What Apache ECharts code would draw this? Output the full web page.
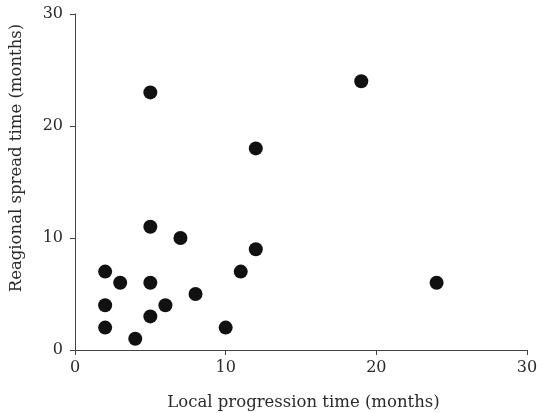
<!DOCTYPE html>
<html>
<head>
<meta charset="utf-8">
<script src="https://cdn.jsdelivr.net/npm/echarts@6/dist/echarts.min.js"></script>
<style>
  html, body { margin: 0; padding: 0; background: #fff; }
  #chart { width: 537px; height: 413px; }
</style>
</head>
<body>
<div id="chart"></div>
<script>
// local progression time (x) vs regional spread time (y), months
const localTime = [5, 19, 12, 5, 7, 12, 2, 11, 3, 5, 24, 2, 6, 8, 5, 2, 10, 4]
const regionalTime = [23, 24, 18, 11, 10, 9, 7, 7, 6, 6, 6, 4, 4, 5, 3, 2, 2, 1]

const points = localTime.map((x, i) => [x, regionalTime[i]])

const chart = echarts.init(document.getElementById('chart'))

const axisCommon = {
  type: 'value',
  min: 0,
  max: 30,
  interval: 10,
  nameLocation: 'middle',
  nameTextStyle: { fontFamily: 'DejaVu Serif', fontSize: 16.5, color: '#2a2a2a' },
  axisLine: { show: true, lineStyle: { color: '#444', width: 1 } },
  axisTick: { show: true, length: 5, lineStyle: { color: '#444' } },
  axisLabel: { fontFamily: 'DejaVu Serif', fontSize: 16, color: '#2a2a2a' },
  splitLine: { show: false }
}

chart.setOption({
  animation: false,
  grid: { left: 75, right: 10, top: 14, bottom: 63, outerBoundsMode: 'none' },
  xAxis: {
    ...axisCommon,
    name: 'Local progression time (months)',
    nameGap: 44,
    nameTextStyle: { ...axisCommon.nameTextStyle, padding: [0, 0, 0, 5] },
    axisLabel: { ...axisCommon.axisLabel, margin: 10 }
  },
  yAxis: {
    ...axisCommon,
    name: 'Reagional spread time (months)',
    nameGap: 50,
    nameTextStyle: { ...axisCommon.nameTextStyle, padding: [0, 0, 0, 48] },
    axisLabel: { ...axisCommon.axisLabel, margin: 12 }
  },
  series: [
    {
      type: 'scatter',
      symbolSize: 14,
      itemStyle: { color: '#111', opacity: 1 },
      data: points
    }
  ]
})
</script>
</body>
</html>
